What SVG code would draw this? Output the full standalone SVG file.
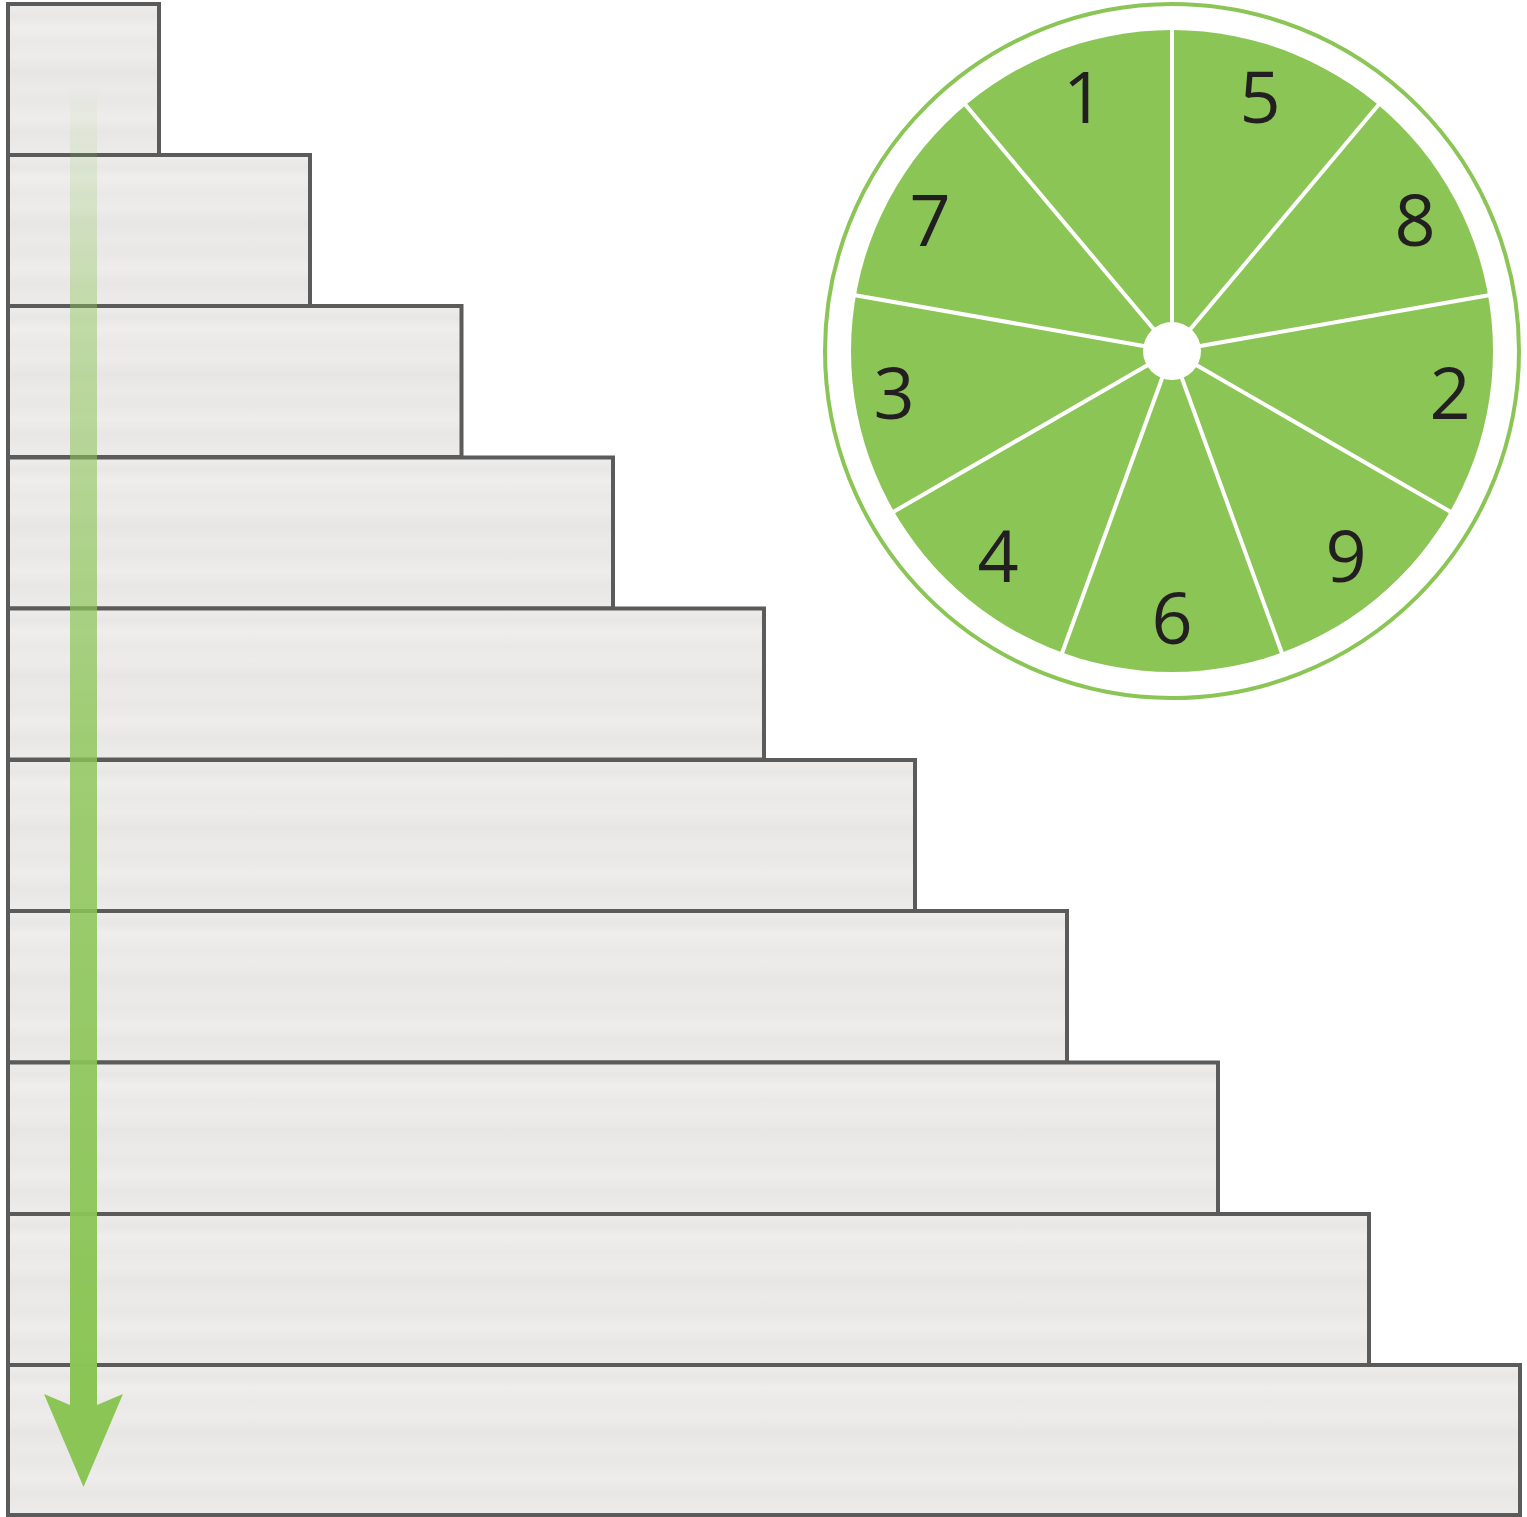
<svg xmlns="http://www.w3.org/2000/svg" width="1527" height="1517" viewBox="0 0 1527 1517">
<defs>
<style>
.bar{fill:url(#barFill);stroke:#5b5b5b;stroke-width:4}
.spoke{stroke:#ffffff;stroke-width:4;stroke-linecap:butt}
.num{font-family:"Open Sans","Noto Sans","Liberation Sans",sans-serif;font-size:72px;fill:#231f20;text-anchor:middle}
</style>
<linearGradient id="barFill" x1="0" y1="0" x2="0" y2="1">
<stop offset="0" stop-color="#eeedeb"/>
<stop offset="0.08" stop-color="#e8e7e5"/>
<stop offset="0.15" stop-color="#efeeec"/>
<stop offset="0.25" stop-color="#eae9e7"/>
<stop offset="0.35" stop-color="#edecea"/>
<stop offset="0.45" stop-color="#e7e6e4"/>
<stop offset="0.55" stop-color="#eceae8"/>
<stop offset="0.65" stop-color="#e9e8e6"/>
<stop offset="0.75" stop-color="#eeedeb"/>
<stop offset="0.85" stop-color="#e8e7e5"/>
<stop offset="1" stop-color="#edecea"/>
</linearGradient>
<linearGradient id="arrowFill" gradientUnits="userSpaceOnUse" x1="0" y1="80" x2="0" y2="1400">
<stop offset="0" stop-color="#8bc556" stop-opacity="0"/>
<stop offset="0.18" stop-color="#8bc556" stop-opacity="0.45"/>
<stop offset="0.5" stop-color="#8bc556" stop-opacity="0.8"/>
<stop offset="1" stop-color="#8bc556" stop-opacity="1"/>
</linearGradient>
</defs>
<g id="stairs">
<rect id="step1" class="bar" x="8" y="4" width="151" height="151"/>
<rect id="step2" class="bar" x="8" y="155" width="302" height="151"/>
<rect id="step3" class="bar" x="8" y="306" width="453.5" height="151"/>
<rect id="step4" class="bar" x="8" y="457.5" width="605" height="151"/>
<rect id="step5" class="bar" x="8" y="608.5" width="756" height="151"/>
<rect id="step6" class="bar" x="8" y="760" width="907" height="151"/>
<rect id="step7" class="bar" x="8" y="911" width="1059" height="151.5"/>
<rect id="step8" class="bar" x="8" y="1062.5" width="1210" height="151.5"/>
<rect id="step9" class="bar" x="8" y="1214" width="1361" height="151"/>
<rect id="step10" class="bar" x="8" y="1365" width="1512" height="150"/>
</g>
<g id="connectors">
<path id="arrow" d="M70 80 H97 V1405 L123 1394 L83.5 1487 L44 1394 L70 1405 Z" fill="url(#arrowFill)"/>
</g>
<g id="wheel">
<circle cx="1172" cy="351" r="347" fill="#ffffff" stroke="#8bc556" stroke-width="4"/>
<circle cx="1172" cy="351" r="321" fill="#8bc556"/>
<g transform="translate(1172 351)">
<line class="spoke" x1="0" y1="0" x2="0" y2="-323" transform="rotate(0)"/>
<line class="spoke" x1="0" y1="0" x2="0" y2="-323" transform="rotate(40)"/>
<line class="spoke" x1="0" y1="0" x2="0" y2="-323" transform="rotate(80)"/>
<line class="spoke" x1="0" y1="0" x2="0" y2="-323" transform="rotate(120)"/>
<line class="spoke" x1="0" y1="0" x2="0" y2="-323" transform="rotate(160)"/>
<line class="spoke" x1="0" y1="0" x2="0" y2="-323" transform="rotate(200)"/>
<line class="spoke" x1="0" y1="0" x2="0" y2="-323" transform="rotate(240)"/>
<line class="spoke" x1="0" y1="0" x2="0" y2="-323" transform="rotate(280)"/>
<line class="spoke" x1="0" y1="0" x2="0" y2="-323" transform="rotate(320)"/>
<circle cx="0" cy="0" r="29" fill="#ffffff"/>
</g>
<g id="labels">
<text class="num" x="1083.5" y="123">1</text>
<text class="num" x="1260" y="123">5</text>
<text class="num" x="930" y="246">7</text>
<text class="num" x="1415" y="246">8</text>
<text class="num" x="894" y="419">3</text>
<text class="num" x="1450" y="419">2</text>
<text class="num" x="998" y="582">4</text>
<text class="num" x="1346" y="582">9</text>
<text class="num" x="1172" y="644">6</text>
</g>
</g>
</svg>
